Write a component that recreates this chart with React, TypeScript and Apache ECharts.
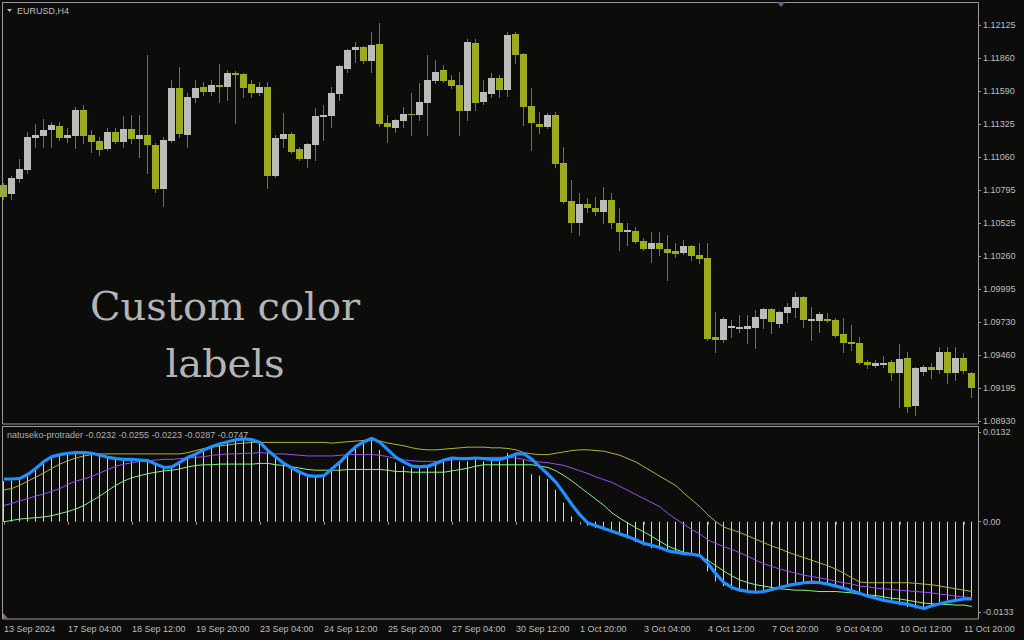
import React, { useEffect, useRef } from "react";
import * as echarts from "echarts";

const symbolTitle = "EURUSD,H4";
const indicatorLegend = "natuseko-protrader -0.0232 -0.0255 -0.0223 -0.0287 -0.0747";
const overlayLines = ["Custom color", "labels"];

const timeLabels = [
  "13 Sep 2024", "17 Sep 04:00", "18 Sep 12:00", "19 Sep 20:00", "23 Sep 04:00", "24 Sep 12:00",
  "25 Sep 20:00", "27 Sep 04:00", "30 Sep 12:00", "1 Oct 20:00", "3 Oct 04:00", "4 Oct 12:00",
  "7 Oct 20:00", "9 Oct 04:00", "10 Oct 12:00", "11 Oct 20:00",
];

const priceTicks = [1.12125, 1.1186, 1.1159, 1.11325, 1.1106, 1.10795, 1.10525, 1.1026, 1.09995, 1.0973, 1.0946, 1.09195, 1.0893];
const indicatorTicks = [0.0132, 0, -0.0133];
const indicatorTickLabels = ["0.0132", "0.00", "-0.0133"];

const opens = [
  1.10834, 1.10761, 1.10882, 1.10955, 1.11213, 1.11229, 1.11278, 1.1131, 1.11213, 1.11229,
  1.11439, 1.11238, 1.11189, 1.11125, 1.11262, 1.11181, 1.11286, 1.11205, 1.11238, 1.11157,
  1.10802, 1.11189, 1.11617, 1.11238, 1.11536, 1.11625, 1.11585, 1.11641, 1.11625, 1.11738,
  1.1173, 1.11649, 1.11577, 1.11625, 1.10907, 1.11205, 1.11246, 1.11125, 1.11044, 1.11157,
  1.11383, 1.11391, 1.11568, 1.1177, 1.11924, 1.11948, 1.11835, 1.11972, 1.11334, 1.11294,
  1.11351, 1.11407, 1.11399, 1.11496, 1.11673, 1.11762, 1.11681, 1.11641, 1.11431, 1.1198,
  1.11504, 1.11568, 1.11698, 1.11601, 1.12053, 1.11891, 1.11472, 1.11326, 1.11302, 1.11399,
  1.11012, 1.10705, 1.10527, 1.10681, 1.10648, 1.10616, 1.10713, 1.10527, 1.10455, 1.10463,
  1.10382, 1.10318, 1.10366, 1.10318, 1.10301, 1.10285, 1.10342, 1.10269, 1.10245, 1.09607,
  1.09583, 1.0968, 1.09672, 1.09672, 1.0968, 1.09753, 1.09833, 1.09712, 1.09801, 1.09841,
  1.0993, 1.09737, 1.09737, 1.09753, 1.09745, 1.09632, 1.09567, 1.09559, 1.09406, 1.09373,
  1.09381, 1.09406, 1.09317, 1.09438, 1.09051, 1.09325, 1.09365, 1.09341, 1.09486, 1.09317,
  1.09438, 1.09317,
];
const closes = [
  1.10737, 1.10891, 1.10963, 1.11221, 1.11238, 1.11278, 1.11318, 1.11213, 1.11238, 1.11439,
  1.11229, 1.11181, 1.11116, 1.11262, 1.11181, 1.11286, 1.11205, 1.11238, 1.11157, 1.10802,
  1.11197, 1.11617, 1.11246, 1.11544, 1.11617, 1.11585, 1.11641, 1.11625, 1.11738, 1.11722,
  1.11617, 1.11577, 1.11625, 1.10907, 1.11213, 1.11246, 1.111, 1.11044, 1.11165, 1.11391,
  1.11399, 1.11577, 1.11794, 1.11924, 1.11948, 1.11835, 1.11964, 1.11326, 1.11302, 1.11359,
  1.11407, 1.11399, 1.11504, 1.11681, 1.11746, 1.11673, 1.11633, 1.11431, 1.11988, 1.11496,
  1.11585, 1.11698, 1.11601, 1.12045, 1.11883, 1.11464, 1.11334, 1.11302, 1.11399, 1.11004,
  1.10697, 1.10527, 1.10681, 1.10648, 1.10616, 1.10713, 1.10527, 1.10455, 1.10471, 1.10374,
  1.10318, 1.10366, 1.10318, 1.10285, 1.10277, 1.10342, 1.10261, 1.10237, 1.09591, 1.09583,
  1.09753, 1.09696, 1.09688, 1.09696, 1.09769, 1.09833, 1.09728, 1.09809, 1.0985, 1.0993,
  1.09745, 1.09753, 1.09793, 1.09737, 1.09615, 1.09559, 1.09551, 1.09398, 1.09381, 1.09398,
  1.09398, 1.09317, 1.0943, 1.09042, 1.09357, 1.09365, 1.09341, 1.09486, 1.09317, 1.09438,
  1.09333, 1.09196,
];
const lows = [
  1.10721, 1.10721, 1.10858, 1.10931, 1.11141, 1.11141, 1.11141, 1.11197, 1.11181, 1.11133,
  1.11173, 1.111, 1.11076, 1.11116, 1.11173, 1.11141, 1.11173, 1.1106, 1.10931, 1.10778,
  1.10665, 1.11181, 1.11221, 1.11141, 1.11504, 1.1156, 1.1156, 1.11504, 1.1152, 1.11334,
  1.11544, 1.11544, 1.1156, 1.1081, 1.10899, 1.11141, 1.11092, 1.11036, 1.10979, 1.11036,
  1.11197, 1.11302, 1.1152, 1.11746, 1.11827, 1.11819, 1.11746, 1.1131, 1.11181, 1.11262,
  1.11302, 1.11238, 1.11359, 1.11238, 1.11657, 1.11665, 1.11617, 1.11238, 1.11359, 1.11439,
  1.11488, 1.11544, 1.11544, 1.11552, 1.11819, 1.11318, 1.11116, 1.11254, 1.11294, 1.10979,
  1.10689, 1.10455, 1.10431, 1.10616, 1.10592, 1.10527, 1.10487, 1.1031, 1.1035, 1.10366,
  1.1031, 1.10213, 1.10269, 1.10067, 1.10253, 1.10277, 1.10229, 1.10205, 1.09583, 1.09486,
  1.09567, 1.09607, 1.09648, 1.09559, 1.09519, 1.0968, 1.0964, 1.09688, 1.09728, 1.09769,
  1.09688, 1.09583, 1.09648, 1.09728, 1.09607, 1.09486, 1.09502, 1.0939, 1.09357, 1.09365,
  1.09365, 1.0926, 1.09042, 1.09002, 1.08978, 1.09301, 1.09277, 1.09317, 1.09236, 1.0926,
  1.09317, 1.09123,
];
const highs = [
  1.1085, 1.10907, 1.11044, 1.11262, 1.11326, 1.11367, 1.11342, 1.11342, 1.11294, 1.11464,
  1.1148, 1.11278, 1.11221, 1.11294, 1.11294, 1.11391, 1.11399, 1.11399, 1.11883, 1.11173,
  1.11221, 1.11681, 1.11786, 1.11577, 1.11681, 1.11665, 1.11681, 1.11811, 1.11762, 1.11754,
  1.11738, 1.11681, 1.11665, 1.11665, 1.11238, 1.11415, 1.11262, 1.11141, 1.11173, 1.11455,
  1.1148, 1.11625, 1.11802, 1.11932, 1.11988, 1.11956, 1.12069, 1.12141, 1.11399, 1.11367,
  1.11464, 1.11577, 1.11657, 1.11883, 1.11843, 1.11802, 1.11722, 1.11746, 1.12012, 1.12012,
  1.11681, 1.11738, 1.11722, 1.12069, 1.12069, 1.11899, 1.11617, 1.11423, 1.11415, 1.11423,
  1.11141, 1.10874, 1.1077, 1.10729, 1.10737, 1.10818, 1.1077, 1.10648, 1.10527, 1.10495,
  1.10406, 1.10455, 1.10455, 1.10431, 1.10366, 1.1039, 1.1035, 1.10366, 1.10366, 1.09809,
  1.09769, 1.09745, 1.09785, 1.09785, 1.09825, 1.09841, 1.09841, 1.09817, 1.09882, 1.09971,
  1.09938, 1.0985, 1.09809, 1.09801, 1.09761, 1.09761, 1.09704, 1.09607, 1.09422, 1.09422,
  1.09454, 1.09422, 1.09551, 1.09486, 1.09365, 1.09381, 1.09398, 1.09527, 1.09527, 1.09527,
  1.09478, 1.09325,
];

const mainLine = [
  0.0063, 0.0063, 0.0064, 0.007, 0.0079, 0.0089, 0.0096, 0.0099, 0.0101, 0.0102,
  0.0102, 0.0101, 0.0098, 0.0095, 0.0093, 0.0092, 0.0092, 0.0091, 0.009, 0.0085,
  0.008, 0.0081, 0.0088, 0.0095, 0.01, 0.0106, 0.0111, 0.0115, 0.0118, 0.0121,
  0.0122, 0.0121, 0.0117, 0.0105, 0.0095, 0.0086, 0.0079, 0.0073, 0.0068, 0.0067,
  0.0068, 0.0078, 0.0088, 0.01, 0.0111, 0.0118, 0.0123, 0.0117, 0.0106, 0.0095,
  0.0088, 0.0082, 0.0081, 0.0082, 0.0086, 0.0091, 0.0094, 0.0093, 0.0093, 0.0094,
  0.0093, 0.0092, 0.0092, 0.0095, 0.01, 0.01, 0.0092, 0.0081, 0.007, 0.0058,
  0.0042, 0.0025, 0.001, -0.0002, -0.0006, -0.001, -0.0014, -0.0018, -0.0022, -0.0027,
  -0.0032, -0.0035, -0.0038, -0.0043, -0.0045, -0.0047, -0.0048, -0.005, -0.0062, -0.0077,
  -0.009, -0.0097, -0.0101, -0.0103, -0.0104, -0.0103, -0.01, -0.0097, -0.0094, -0.0092,
  -0.009, -0.0089, -0.009, -0.0092, -0.0095, -0.0098, -0.0102, -0.0106, -0.011, -0.0113,
  -0.0116, -0.0118, -0.012, -0.0122, -0.0125, -0.0128, -0.0124, -0.0121, -0.0118, -0.0116,
  -0.0114, -0.0114,
];
const histValues = [
  0.006, 0.0061, 0.0062, 0.0068, 0.0077, 0.0087, 0.0095, 0.0098, 0.01, 0.0101,
  0.0101, 0.01, 0.0097, 0.0094, 0.0092, 0.0091, 0.0091, 0.009, 0.0089, 0.0084,
  0.0079, 0.008, 0.0087, 0.0094, 0.0099, 0.0105, 0.011, 0.0114, 0.0117, 0.012,
  0.0121, 0.012, 0.0116, 0.0104, 0.0094, 0.0085, 0.0078, 0.0072, 0.0067, 0.0066,
  0.0067, 0.0077, 0.0087, 0.0099, 0.011, 0.0119, 0.0121, 0.0106, 0.0094, 0.0087,
  0.0082, 0.0079, 0.0079, 0.0082, 0.0089, 0.0092, 0.0094, 0.0089, 0.0089, 0.0092,
  0.0089, 0.0092, 0.0089, 0.0101, 0.01, 0.0092, 0.007, 0.0068, 0.0063, 0.0047,
  0.0028, 0.0008, 0.0, -0.0006, -0.0009, -0.0012, -0.0015, -0.002, -0.0025, -0.003,
  -0.0035, -0.0039, -0.0041, -0.0044, -0.0046, -0.0048, -0.0049, -0.0051, -0.0073, -0.0088,
  -0.0095, -0.01, -0.0103, -0.0105, -0.0105, -0.0103, -0.0098, -0.0095, -0.0093, -0.0091,
  -0.0089, -0.0088, -0.0091, -0.0093, -0.0095, -0.0098, -0.0102, -0.0106, -0.011, -0.0114,
  -0.0117, -0.0119, -0.0123, -0.0126, -0.0128, -0.0127, -0.0123, -0.0119, -0.0116, -0.0114,
  -0.0113, -0.0113,
];
const yellowLine = [
  0.0047, 0.0049, 0.0054, 0.006, 0.0066, 0.0072, 0.0079, 0.0085, 0.009, 0.0094,
  0.0097, 0.0099, 0.01, 0.01, 0.01, 0.01, 0.01, 0.01, 0.01, 0.01,
  0.01, 0.01, 0.01, 0.0102, 0.0105, 0.0108, 0.011, 0.0112, 0.0113, 0.0115,
  0.0116, 0.0117, 0.0117, 0.0117, 0.0117, 0.0117, 0.0117, 0.0117, 0.0117, 0.0117,
  0.0117, 0.0116, 0.0117, 0.0118, 0.0119, 0.012, 0.0121, 0.0119, 0.0116, 0.0114,
  0.0112, 0.0109, 0.0107, 0.0106, 0.0106, 0.0107, 0.0108, 0.0109, 0.011, 0.011,
  0.011, 0.0109, 0.0109, 0.0108, 0.0106, 0.0102, 0.01, 0.0099, 0.0099, 0.0101,
  0.0103, 0.0105, 0.0106, 0.0106, 0.0105, 0.0104, 0.0101, 0.0098, 0.0093, 0.0088,
  0.0081, 0.0074, 0.0067, 0.006, 0.0053, 0.0042, 0.0032, 0.0022, 0.001, 0.0,
  -0.0008, -0.0012, -0.0016, -0.0021, -0.0026, -0.0031, -0.0036, -0.004, -0.0045, -0.0049,
  -0.0053, -0.0057, -0.0061, -0.0065, -0.007, -0.0076, -0.0083, -0.0089, -0.009, -0.009,
  -0.009, -0.009, -0.009, -0.009, -0.0091, -0.0092, -0.0093, -0.0095, -0.0097, -0.0099,
  -0.0101, -0.0103,
];
const purpleLine = [
  0.0024, 0.0027, 0.0031, 0.0034, 0.0038, 0.0041, 0.0045, 0.0049, 0.0055, 0.006,
  0.0063, 0.0067, 0.0072, 0.0077, 0.0082, 0.0085, 0.0087, 0.0089, 0.009, 0.0091,
  0.0092, 0.0092, 0.0093, 0.0094, 0.0095, 0.0096, 0.0098, 0.0099, 0.01, 0.01,
  0.0101, 0.0101, 0.0102, 0.0101, 0.01, 0.01, 0.0099, 0.0098, 0.0097, 0.0097,
  0.0097, 0.0097, 0.0098, 0.0099, 0.0099, 0.0099, 0.0099, 0.0098, 0.0096, 0.0093,
  0.0091, 0.009, 0.0089, 0.0089, 0.0089, 0.009, 0.0091, 0.0092, 0.0093, 0.0094,
  0.0094, 0.0095, 0.0095, 0.0095, 0.0094, 0.0092, 0.0089, 0.0088, 0.0087, 0.0085,
  0.0083, 0.0079, 0.0075, 0.0071, 0.0066, 0.0062, 0.0058, 0.0052, 0.0046, 0.004,
  0.0034, 0.0028, 0.0022, 0.0012, 0.0004, -0.0004, -0.0012, -0.0018, -0.0027, -0.0032,
  -0.0037, -0.0041, -0.0046, -0.0051, -0.0057, -0.0062, -0.0066, -0.007, -0.0073, -0.0076,
  -0.0079, -0.0081, -0.0083, -0.0085, -0.0088, -0.009, -0.0092, -0.0095, -0.0096, -0.0098,
  -0.0099, -0.01, -0.0101, -0.0102, -0.0103, -0.0104, -0.0105, -0.0107, -0.0108, -0.011,
  -0.0111, -0.0112,
];
const greenLine = [
  0.0, 0.0002, 0.0004, 0.0005, 0.0006, 0.0007, 0.0009, 0.0012, 0.0015, 0.0019,
  0.0024, 0.0031, 0.0038, 0.0046, 0.0054, 0.006, 0.0065, 0.0068, 0.0071, 0.0073,
  0.0075, 0.0076, 0.0078, 0.0081, 0.0083, 0.0084, 0.0084, 0.0085, 0.0085, 0.0085,
  0.0085, 0.0085, 0.0086, 0.0086, 0.0084, 0.0083, 0.0081, 0.0079, 0.0077, 0.0076,
  0.0076, 0.0076, 0.0076, 0.0077, 0.0077, 0.0077, 0.0077, 0.0077, 0.0076, 0.0074,
  0.0074, 0.0073, 0.0073, 0.0073, 0.0073, 0.0073, 0.0075, 0.0077, 0.0079, 0.0082,
  0.0084, 0.0084, 0.0084, 0.0084, 0.0084, 0.0084, 0.0084, 0.0082, 0.008, 0.0075,
  0.0068, 0.006, 0.0051, 0.0042, 0.0033, 0.0024, 0.0013, 0.0005, -0.0002, -0.0009,
  -0.0015, -0.0022, -0.0029, -0.0036, -0.0041, -0.0045, -0.0048, -0.0051, -0.0057, -0.0065,
  -0.0073, -0.008, -0.0086, -0.009, -0.0093, -0.0095, -0.0097, -0.0099, -0.01, -0.0101,
  -0.0101, -0.0102, -0.0103, -0.0103, -0.0103, -0.0104, -0.0105, -0.0107, -0.0108, -0.0109,
  -0.0111, -0.0113, -0.0114, -0.0116, -0.0118, -0.012, -0.0121, -0.0122, -0.0122, -0.0123,
  -0.0123, -0.0125,
];

const BG = "#0c0c0a";
const BULL = "#bcbcbc";
const BEAR = "#9cac1c";
const WICK = "#6c6c74";
const FRAME = "#9a9a9a";
const TEXT = "#bdbdbd";
const FONT = "Liberation Sans";

export default function App() {
  const ref = useRef<HTMLDivElement>(null);

  useEffect(() => {
    const chart = echarts.init(ref.current as HTMLDivElement, null, { renderer: "svg", width: 1024, height: 640 });
    const categories = opens.map((_, i) => String(i));
    const candleData = opens.map((o, i) => [i, o, closes[i], lows[i], highs[i]]);
    const histData = histValues.map((v, i) => [i, v]);
    const every8 = (index: number) => index % 8 === 0;

    const option: any = {
      animation: false,
      backgroundColor: BG,
      grid: [
        { left: 0, top: 2.3, width: 976, height: 421.7, outerBoundsMode: "none", show: false },
        { left: 0, top: 426, width: 976, height: 193, outerBoundsMode: "none", show: false },
      ],
      xAxis: [
        {
          type: "category", gridIndex: 0, data: categories, boundaryGap: true,
          axisLine: { show: false }, axisTick: { show: false }, axisLabel: { show: false }, splitLine: { show: false },
        },
        {
          type: "category", gridIndex: 1, data: categories, boundaryGap: true,
          axisLine: { show: false },
          axisTick: { show: true, alignWithLabel: true, interval: every8, length: 3, lineStyle: { color: FRAME } },
          axisLabel: {
            show: true, interval: every8, align: "left", margin: 5, color: TEXT, fontSize: 9, fontFamily: FONT,
            formatter: (_v: string, index: number) => (index % 8 === 0 ? timeLabels[index / 8] ?? "" : ""),
          },
          splitLine: { show: false },
        },
      ],
      yAxis: [
        {
          type: "value", gridIndex: 0, position: "right", offset: 2, min: 1.08905, max: 1.12308, scale: true,
          axisLine: { show: false }, splitLine: { show: false },
          axisTick: { show: true, length: 3, lineStyle: { color: FRAME }, customValues: priceTicks },
          axisLabel: {
            show: true, customValues: priceTicks, margin: 5, color: TEXT, fontSize: 9, fontFamily: FONT,
            formatter: (v: number) => v.toFixed(5),
          },
        },
        {
          type: "value", gridIndex: 1, position: "right", offset: 2, min: -0.01435, max: 0.01412,
          axisLine: { show: false }, splitLine: { show: false },
          axisTick: { show: true, length: 3, lineStyle: { color: FRAME }, customValues: indicatorTicks },
          axisLabel: {
            show: true, customValues: indicatorTicks, margin: 5, color: TEXT, fontSize: 9, fontFamily: FONT,
            formatter: (v: number) => {
              const i = indicatorTicks.findIndex((t) => Math.abs(t - v) < 1e-9);
              return i >= 0 ? indicatorTickLabels[i] : "";
            },
          },
        },
      ],
      series: [
        {
          type: "custom", name: "candles", xAxisIndex: 0, yAxisIndex: 0, data: candleData, silent: true,
          encode: { x: 0, y: [1, 2, 3, 4] },
          renderItem: (_p: any, api: any) => {
            const i = api.value(0);
            const o = api.value(1), c = api.value(2), l = api.value(3), h = api.value(4);
            const po = api.coord([i, o]);
            const pc = api.coord([i, c]);
            const pl = api.coord([i, l]);
            const ph = api.coord([i, h]);
            const cx = Math.round(po[0]);
            const top = Math.round(Math.min(po[1], pc[1]));
            const bot = Math.round(Math.max(po[1], pc[1]));
            const color = c >= o ? BULL : BEAR;
            return {
              type: "group",
              children: [
                { type: "line", shape: { x1: cx - 0.5, y1: Math.round(ph[1]), x2: cx - 0.5, y2: Math.round(pl[1]) + 1 }, style: { stroke: WICK, lineWidth: 1 } },
                { type: "rect", shape: { x: cx - 4, y: top, width: 7, height: Math.max(1, bot - top) }, style: { fill: color } },
              ],
            };
          },
        },
        {
          type: "custom", name: "hist", xAxisIndex: 1, yAxisIndex: 1, data: histData, silent: true,
          encode: { x: 0, y: 1 },
          renderItem: (_p: any, api: any) => {
            const i = api.value(0);
            const v = api.value(1);
            const p0 = api.coord([i, 0]);
            const p1 = api.coord([i, v]);
            const x = Math.round(p0[0]) - 0.5;
            return { type: "line", shape: { x1: x, y1: p0[1], x2: x, y2: p1[1] }, style: { stroke: "#d4d4d4", lineWidth: 1 } };
          },
        },
        { type: "line", name: "yellow", xAxisIndex: 1, yAxisIndex: 1, data: yellowLine, showSymbol: false, silent: true, lineStyle: { color: "#b0b040", width: 1 } },
        { type: "line", name: "purple", xAxisIndex: 1, yAxisIndex: 1, data: purpleLine, showSymbol: false, silent: true, lineStyle: { color: "#9a4cf0", width: 1 } },
        { type: "line", name: "green", xAxisIndex: 1, yAxisIndex: 1, data: greenLine, showSymbol: false, silent: true, lineStyle: { color: "#88ee88", width: 1 } },
        { type: "line", name: "main", xAxisIndex: 1, yAxisIndex: 1, data: mainLine, showSymbol: false, silent: true, lineStyle: { color: "#1e90ff", width: 3.2 } },
      ],
      graphic: [
        { type: "rect", silent: true, shape: { x: 2.5, y: 2.5, width: 976, height: 421.5 }, style: { fill: "none", stroke: FRAME, lineWidth: 1 }, z: 10 },
        { type: "rect", silent: true, shape: { x: 2.5, y: 426.5, width: 976, height: 192.5 }, style: { fill: "none", stroke: FRAME, lineWidth: 1 }, z: 10 },
        { type: "polygon", silent: true, shape: { points: [[7, 9], [12, 9], [9.5, 12]] }, style: { fill: TEXT }, z: 10 },
        { type: "polygon", silent: true, shape: { points: [[777, 2], [785, 2], [781, 7]] }, style: { fill: "#735a80" }, z: 10 },
        { type: "polygon", silent: true, shape: { points: [[3, 613], [3, 618.5], [8, 618.5]] }, style: { fill: "#9a6a7a" }, z: 10 },
        { type: "text", silent: true, x: 17, y: 10.5, style: { text: symbolTitle, fill: TEXT, fontSize: 9, fontFamily: FONT, align: "left", verticalAlign: "middle" }, z: 10 },
        { type: "text", silent: true, x: 7, y: 435, style: { text: indicatorLegend, fill: "#b0b0b0", fontSize: 9, fontFamily: FONT, align: "left", verticalAlign: "middle" }, z: 10 },
        { type: "text", silent: true, x: 225, y: 305.5, style: { text: overlayLines[0], fill: "#b4b4b4", fontSize: 40, fontFamily: "DejaVu Serif", align: "center", verticalAlign: "middle" }, z: 10 },
        { type: "text", silent: true, x: 225, y: 363, style: { text: overlayLines[1], fill: "#b4b4b4", fontSize: 40, fontFamily: "DejaVu Serif", align: "center", verticalAlign: "middle" }, z: 10 },
      ],
    };

    chart.setOption(option);
    return () => chart.dispose();
  }, []);

  return (
    <div
      ref={ref}
      style={{ position: "fixed", left: 0, top: 0, width: 1024, height: 640, background: BG }}
    />
  );
}
